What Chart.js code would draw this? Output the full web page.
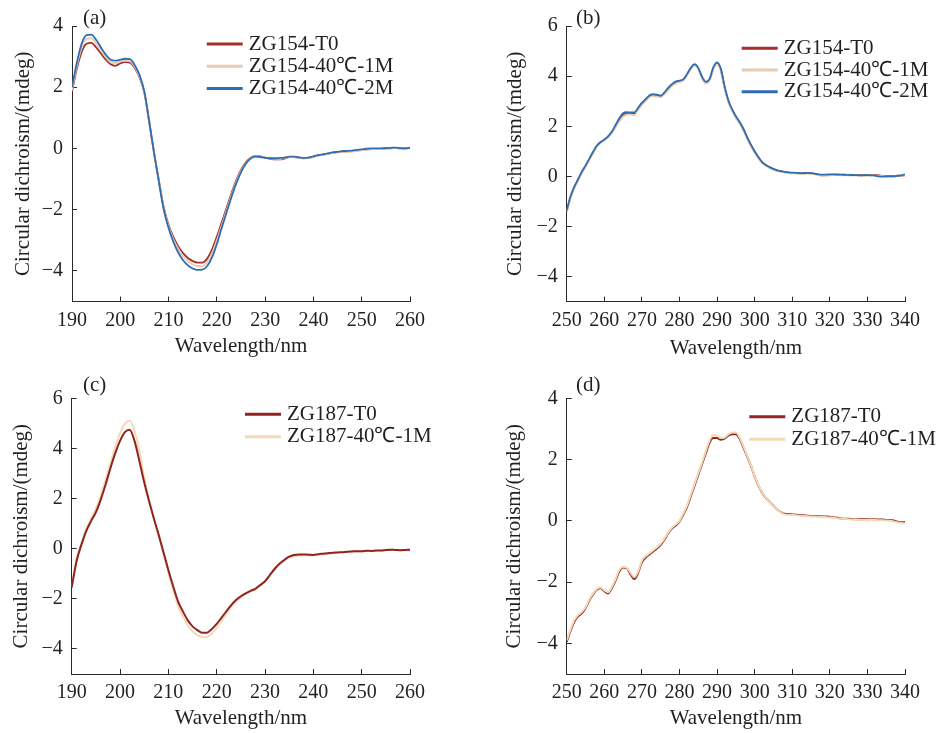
<!DOCTYPE html>
<html>
<head>
<meta charset="utf-8">
<script src="https://cdn.jsdelivr.net/npm/chart.js@4/dist/chart.umd.min.js"></script>
<style>
  html, body { margin: 0; padding: 0; background: #fff; }
  #page { position: relative; width: 940px; height: 733px; overflow: hidden; }
  .panel { position: absolute; }
</style>
</head>
<body>
<div id="page">
  <canvas class="panel" id="cv-a" width="470" height="366" style="left:0;top:0"></canvas>
  <canvas class="panel" id="cv-b" width="470" height="366" style="left:470px;top:0"></canvas>
  <canvas class="panel" id="cv-c" width="470" height="367" style="left:0;top:366px"></canvas>
  <canvas class="panel" id="cv-d" width="470" height="367" style="left:470px;top:366px"></canvas>
</div>
<script>
/* ── Wavelength grids (nm) ─────────────────────────────── */
const wlFar = [190,191,192,193,194,195,196,197,198,199,200,201,202,203,204,205,206,207,208,209,
  210,211,212,213,214,215,216,217,218,219,220,221,222,223,224,225,226,227,228,229,
  230,231,232,233,234,235,236,237,238,239,240,241,242,243,244,245,246,247,248,249,
  250,251,252,253,254,255,256,257,258,259,260];
const wlNear = [250,251,252,253,254,255,256,257,258,259,260,261,262,263,264,265,266,267,268,269,
  270,271,272,273,274,275,276,277,278,279,280,281,282,283,284,285,286,287,288,289,
  290,291,292,293,294,295,296,297,298,299,300,301,302,303,304,305,306,307,308,309,
  310,311,312,313,314,315,316,317,318,319,320,321,322,323,324,325,326,327,328,329,
  330,331,332,333,334,335,336,337,338,339,340];

const xTicksFar  = [190,200,210,220,230,240,250,260];
const xTicksNear = [250,260,270,280,290,300,310,320,330,340];
const yTicksA = [-4,-2,0,2,4];
const yTicksB = [-4,-2,0,2,4,6];

/* ── (a) ZG154 far-UV, mdeg ── */
const a_T0 = [1.85,2.6,3.15,3.42,3.45,3.3,3.1,2.9,2.75,2.7,
  2.78,2.82,2.8,2.62,2.32,1.8,0.85,-0.15,-1.05,-1.92,
  -2.5,-2.9,-3.2,-3.42,-3.58,-3.68,-3.73,-3.73,-3.6,-3.3,
  -2.88,-2.42,-1.95,-1.48,-1.05,-0.7,-0.45,-0.3,-0.24,-0.26,
  -0.3,-0.33,-0.36,-0.36,-0.33,-0.28,-0.28,-0.3,-0.32,-0.3,
  -0.27,-0.23,-0.2,-0.17,-0.14,-0.12,-0.1,-0.1,-0.09,-0.07,
  -0.05,-0.03,-0.02,-0.02,-0.01,0.0,0.0,0.02,0.0,0.0,0.03];
const a_1M = [1.9,2.7,3.3,3.58,3.6,3.43,3.2,2.98,2.82,2.78,
  2.84,2.87,2.85,2.66,2.35,1.82,0.86,-0.16,-1.08,-1.96,
  -2.55,-2.97,-3.28,-3.52,-3.68,-3.79,-3.84,-3.84,-3.72,-3.43,
  -3.0,-2.52,-2.03,-1.55,-1.1,-0.74,-0.48,-0.31,-0.25,-0.27,
  -0.3,-0.32,-0.34,-0.34,-0.31,-0.28,-0.29,-0.31,-0.33,-0.31,
  -0.28,-0.24,-0.21,-0.18,-0.15,-0.13,-0.11,-0.11,-0.1,-0.08,
  -0.06,-0.04,-0.03,-0.02,-0.02,-0.01,0.0,0.01,0.0,0.0,0.03];
const a_2M = [2.0,2.8,3.42,3.7,3.72,3.55,3.3,3.06,2.9,2.87,
  2.9,2.93,2.92,2.72,2.4,1.85,0.88,-0.15,-1.1,-2.0,
  -2.6,-3.05,-3.4,-3.65,-3.82,-3.92,-3.97,-3.96,-3.84,-3.56,
  -3.12,-2.6,-2.1,-1.6,-1.15,-0.78,-0.5,-0.33,-0.27,-0.28,
  -0.31,-0.32,-0.32,-0.31,-0.3,-0.27,-0.27,-0.29,-0.31,-0.3,
  -0.26,-0.22,-0.19,-0.16,-0.13,-0.11,-0.09,-0.08,-0.07,-0.05,
  -0.03,-0.01,0.0,0.0,0.0,0.01,0.02,0.03,0.01,0.0,0.03];

/* ── (b) ZG154 near-UV ── */
const b_T0 = [-1.4,-0.85,-0.45,-0.15,0.15,0.4,0.68,0.95,1.2,1.35,
  1.45,1.58,1.75,2.0,2.25,2.45,2.52,2.52,2.5,2.7,
  2.9,3.05,3.2,3.25,3.22,3.2,3.32,3.5,3.65,3.75,
  3.8,3.85,4.05,4.3,4.45,4.3,3.95,3.75,3.85,4.3,
  4.5,4.25,3.55,3.0,2.65,2.38,2.15,1.88,1.55,1.25,
  0.98,0.75,0.55,0.44,0.36,0.29,0.23,0.2,0.17,0.15,
  0.14,0.13,0.12,0.12,0.13,0.12,0.1,0.06,0.04,0.05,
  0.06,0.07,0.07,0.06,0.07,0.05,0.05,0.06,0.05,0.04,
  0.05,0.05,0.06,0.05,0.02,0.01,0.0,0.02,0.03,0.02,0.05];
const b_1M = [-1.42,-0.88,-0.47,-0.17,0.12,0.38,0.66,0.93,1.18,1.33,
  1.43,1.55,1.72,1.95,2.18,2.38,2.46,2.47,2.44,2.64,
  2.85,3.0,3.15,3.2,3.18,3.16,3.27,3.44,3.6,3.7,
  3.76,3.82,4.02,4.27,4.42,4.27,3.92,3.7,3.8,4.26,
  4.47,4.2,3.5,2.96,2.6,2.33,2.1,1.83,1.5,1.2,
  0.94,0.7,0.52,0.41,0.33,0.26,0.21,0.18,0.15,0.13,
  0.12,0.11,0.11,0.11,0.11,0.1,0.08,0.05,0.03,0.03,
  0.04,0.05,0.05,0.04,0.05,0.04,0.03,0.04,0.03,0.03,
  0.03,0.04,0.04,0.03,0.02,0.0,-0.01,0.0,0.01,0.02,0.03];
const b_2M = [-1.35,-0.8,-0.42,-0.12,0.18,0.43,0.7,0.97,1.22,1.37,
  1.47,1.6,1.78,2.05,2.32,2.52,2.56,2.55,2.55,2.74,
  2.93,3.08,3.23,3.28,3.26,3.22,3.35,3.53,3.68,3.78,
  3.82,3.87,4.08,4.33,4.48,4.33,3.98,3.78,3.88,4.35,
  4.55,4.3,3.6,3.04,2.68,2.4,2.17,1.9,1.57,1.27,
  1.0,0.77,0.57,0.45,0.37,0.3,0.24,0.21,0.18,0.16,
  0.15,0.14,0.13,0.13,0.14,0.13,0.11,0.08,0.07,0.07,
  0.08,0.08,0.07,0.07,0.06,0.06,0.05,0.05,0.04,0.05,
  0.05,0.04,0.03,0.0,-0.01,0.0,0.01,0.0,0.02,0.04,0.08];

/* ── (c) ZG187 far-UV ── */
const c_T0 = [-1.55,-0.5,0.15,0.7,1.1,1.45,1.95,2.55,3.2,3.8,
  4.3,4.65,4.75,4.3,3.5,2.65,1.9,1.2,0.55,-0.15,
  -0.85,-1.5,-2.1,-2.5,-2.85,-3.1,-3.25,-3.35,-3.35,-3.2,
  -3.0,-2.75,-2.5,-2.25,-2.05,-1.9,-1.78,-1.68,-1.6,-1.45,
  -1.3,-1.05,-0.8,-0.6,-0.45,-0.32,-0.25,-0.23,-0.23,-0.24,
  -0.25,-0.22,-0.2,-0.18,-0.16,-0.15,-0.14,-0.12,-0.11,-0.1,
  -0.1,-0.08,-0.09,-0.07,-0.07,-0.05,-0.04,-0.05,-0.06,-0.05,-0.04];
const c_1M = [-1.5,-0.45,0.2,0.78,1.2,1.6,2.12,2.75,3.42,4.05,
  4.6,4.98,5.1,4.7,3.9,2.85,1.95,1.2,0.5,-0.2,
  -0.95,-1.65,-2.28,-2.7,-3.05,-3.3,-3.45,-3.53,-3.52,-3.38,
  -3.15,-2.88,-2.6,-2.32,-2.1,-1.94,-1.8,-1.7,-1.62,-1.48,
  -1.32,-1.08,-0.83,-0.62,-0.47,-0.35,-0.29,-0.27,-0.27,-0.27,
  -0.27,-0.24,-0.22,-0.2,-0.18,-0.16,-0.15,-0.13,-0.12,-0.11,
  -0.11,-0.09,-0.1,-0.08,-0.08,-0.06,-0.05,-0.06,-0.07,-0.07,-0.06];

/* ── (d) ZG187 near-UV ── */
const d_T0 = [-3.95,-3.6,-3.3,-3.12,-3.02,-2.85,-2.6,-2.4,-2.25,-2.2,
  -2.3,-2.37,-2.2,-1.95,-1.65,-1.52,-1.55,-1.75,-1.9,-1.7,
  -1.35,-1.2,-1.1,-1.0,-0.9,-0.78,-0.62,-0.4,-0.25,-0.15,
  -0.03,0.2,0.45,0.8,1.15,1.5,1.85,2.2,2.55,2.7,
  2.7,2.65,2.68,2.78,2.83,2.83,2.68,2.4,2.1,1.8,
  1.45,1.15,0.92,0.75,0.62,0.5,0.37,0.28,0.23,0.22,
  0.21,0.2,0.19,0.18,0.17,0.16,0.16,0.15,0.15,0.14,
  0.13,0.12,0.1,0.08,0.07,0.07,0.06,0.05,0.05,0.05,
  0.05,0.06,0.05,0.04,0.04,0.03,0.03,0.01,-0.03,-0.05,-0.04];
const d_1M = [-3.9,-3.55,-3.25,-3.08,-2.98,-2.82,-2.57,-2.37,-2.22,-2.18,
  -2.27,-2.33,-2.16,-1.9,-1.6,-1.5,-1.53,-1.7,-1.84,-1.65,
  -1.3,-1.15,-1.06,-0.96,-0.86,-0.74,-0.58,-0.38,-0.22,-0.12,
  0.0,0.24,0.5,0.85,1.2,1.55,1.9,2.27,2.62,2.8,
  2.78,2.7,2.72,2.82,2.88,2.88,2.72,2.44,2.12,1.82,
  1.47,1.17,0.93,0.76,0.62,0.5,0.37,0.27,0.21,0.2,
  0.19,0.18,0.17,0.16,0.15,0.14,0.14,0.13,0.13,0.12,
  0.11,0.1,0.08,0.07,0.06,0.05,0.04,0.04,0.03,0.03,
  0.03,0.04,0.03,0.02,0.02,0.01,0.0,-0.02,-0.05,-0.07,-0.08];

/* ── Look ── */
const SERIF = "'Liberation Serif', 'Times New Roman', serif";
const INK   = '#231f20';
const AXIS  = '#2a2a2a';
const RED   = '#a3302b';
const TAN   = '#e6cdb3';
const BLUE  = '#2f6db3';
const RED2  = '#8f2422';
const TAN2  = '#f2dab6';

/* legend + panel letter, drawn straight on the canvas */
const cdLegend = {
  id: 'cdLegend',
  afterDraw(chart, args, o) {
    const ctx = chart.ctx;
    ctx.save();
    ctx.font = `21px ${SERIF}`;
    ctx.textBaseline = 'middle';
    ctx.textAlign = 'left';
    chart.data.datasets.forEach((ds, i) => {
      const y = o.y + i * o.dy;
      ctx.strokeStyle = ds.borderColor;
      ctx.lineWidth = 3;
      ctx.beginPath();
      ctx.moveTo(o.x, y);
      ctx.lineTo(o.x + 36, y);
      ctx.stroke();
      ctx.fillStyle = INK;
      ctx.fillText(ds.label, o.x + 42, y);
    });
    ctx.fillStyle = INK;
    ctx.fillText(o.tag, o.tagX, o.tagY);
    ctx.restore();
  }
};

function makePanel(id, p) {
  const tickFont  = { family: SERIF, size: 20 };
  const titleFont = { family: SERIF, size: 21 };
  return new Chart(document.getElementById(id), {
    type: 'line',
    data: {
      datasets: p.series.map(s => ({
        label: s.label,
        data: p.wl.map((w, i) => ({ x: w, y: s.values[i] })),
        borderColor: s.color,
        borderWidth: s.width || 1.8,
        order: s.order,
        pointRadius: 0,
        fill: false,
        cubicInterpolationMode: 'monotone'
      }))
    },
    options: {
      responsive: false,
      animation: false,
      events: [],
      layout: { padding: { left: 0, top: p.top, right: p.right, bottom: 0 } },
      plugins: { legend: { display: false }, tooltip: { enabled: false }, cdLegend: p.legend },
      scales: {
        x: {
          type: 'linear', min: p.wl[0], max: p.wl[p.wl.length - 1],
          afterBuildTicks: s => { s.ticks = p.xTicks.map(v => ({ value: v })); },
          afterFit: s => { s.height = p.xh; },
          border: { color: AXIS, width: 1 },
          grid: { drawOnChartArea: false, tickLength: -5, color: AXIS },
          ticks: { font: tickFont, color: INK, padding: 12, maxRotation: 0, autoSkip: false },
          // bottom titles sit on padding.bottom
          title: { display: true, text: 'Wavelength/nm', font: titleFont, color: INK,
                   padding: { top: 4, bottom: p.xtp } }
        },
        y: {
          min: -5, max: p.ymax,
          afterBuildTicks: s => { s.ticks = p.yTicks.map(v => ({ value: v })); },
          afterFit: s => { s.width = p.yw; },
          border: { color: AXIS, width: 1 },
          grid: { drawOnChartArea: false, tickLength: -5, color: AXIS },
          ticks: { font: tickFont, color: INK, padding: 14,
                   callback: v => v < 0 ? '\u2212' + Math.abs(v) : String(v) },
          title: { display: true, text: 'Circular dichroism/(mdeg)', font: titleFont, color: INK,
                   padding: { top: p.ytp, bottom: 0 } }
        }
      }
    },
    plugins: [cdLegend]
  });
}

makePanel('cv-a', {
  wl: wlFar, xTicks: xTicksFar, yTicks: yTicksA, ymax: 4,
  top: 24.5, right: 60, yw: 72, xh: 64.5, xtp: 6.7, ytp: 10.7,
  series: [
    { label: 'ZG154-T0',      values: a_T0, color: RED,  order: 3 },
    { label: 'ZG154-40℃-1M', values: a_1M, color: TAN,  order: 2 },
    { label: 'ZG154-40℃-2M', values: a_2M, color: BLUE, order: 1 }
  ],
  legend: { x: 206.7, y: 44, dy: 22.2, tag: '(a)', tagX: 83, tagY: 18 }
});

makePanel('cv-b', {
  wl: wlNear, xTicks: xTicksNear, yTicks: yTicksB, ymax: 6,
  top: 24.3, right: 35, yw: 96.7, xh: 64.3, xtp: 5.1, ytp: 32.4,
  series: [
    { label: 'ZG154-T0',      values: b_T0, color: RED,  order: 3 },
    { label: 'ZG154-40℃-1M', values: b_1M, color: TAN,  order: 2 },
    { label: 'ZG154-40℃-2M', values: b_2M, color: BLUE, order: 1 }
  ],
  legend: { x: 271.7, y: 48.3, dy: 21.7, tag: '(b)', tagX: 106, tagY: 18 }
});

makePanel('cv-c', {
  wl: wlFar, xTicks: xTicksFar, yTicks: yTicksB, ymax: 6,
  top: 32.3, right: 60, yw: 71.7, xh: 59, xtp: 2.1, ytp: 9.1,
  series: [
    { label: 'ZG187-T0',      values: c_T0, color: RED2, order: 1, width: 2 },
    { label: 'ZG187-40℃-1M', values: c_1M, color: TAN2, order: 2, width: 2 }
  ],
  legend: { x: 245, y: 48.3, dy: 22.4, tag: '(c)', tagX: 83, tagY: 19 }
});

makePanel('cv-d', {
  wl: wlNear, xTicks: xTicksNear, yTicks: yTicksA, ymax: 4,
  top: 32.3, right: 35, yw: 96.7, xh: 59, xtp: 2.1, ytp: 31.4,
  series: [
    { label: 'ZG187-T0',      values: d_T0, color: RED2, order: 2, width: 2 },
    { label: 'ZG187-40℃-1M', values: d_1M, color: TAN2, order: 1, width: 2 }
  ],
  legend: { x: 279.3, y: 50.7, dy: 22.6, tag: '(d)', tagX: 106, tagY: 19 }
});
</script>
</body>
</html>
